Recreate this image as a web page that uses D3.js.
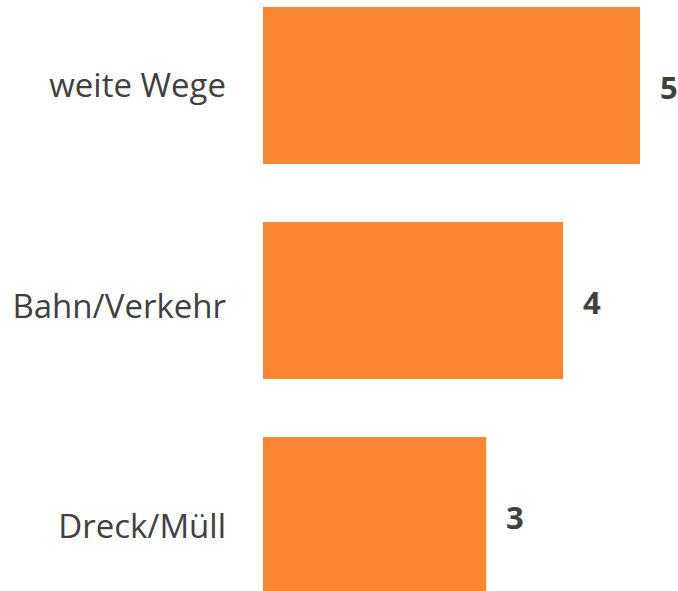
<!DOCTYPE html>
<html>
<head>
<meta charset="utf-8">
<script src="https://cdn.jsdelivr.net/npm/d3@7"></script>
<style>
  body { margin: 0; background: #fff; }
  svg { display: block; font-family: 'Open Sans', sans-serif; }
</style>
</head>
<body>
<svg width="678" height="591"></svg>
<script>
var svg = d3.select('svg');

// Data
var categories = ['weite Wege', 'Bahn/Verkehr', 'Dreck/Müll'];
var values = [5, 4, 3];

var barColor = '#fa8633';
var textColor = '#404040';

var data = categories.map(function(c, i) { return {cat: c, value: values[i]}; });

// x: axis minimum sits a little above zero in the original
var xScale = d3.scaleLinear().domain([0.1, 5]).range([263, 640]);

// y: step 215, bar height 157
var yScale = d3.scaleBand()
    .domain(categories)
    .range([-22, 623])
    .paddingInner(0.27)
    .paddingOuter(0.135);

// category labels are spaced a bit wider than the bars
var labelScale = d3.scalePoint()
    .domain(categories)
    .range([97, 538]);

function mid(d) { return yScale(d.cat) + yScale.bandwidth() / 2; }

svg.selectAll('.bar')
    .data(data)
    .enter()
    .append('rect')
    .attr('class', 'bar')
    .attr('x', xScale.range()[0])
    .attr('y', function(d) { return yScale(d.cat); })
    .attr('width', function(d) { return xScale(d.value) - xScale.range()[0]; })
    .attr('height', yScale.bandwidth())
    .attr('fill', barColor);

// category labels
svg.selectAll('.cat-label')
    .data(data)
    .enter()
    .append('text')
    .attr('class', 'cat-label')
    .attr('x', 226)
    .attr('y', function(d) { return labelScale(d.cat); })
    .attr('text-anchor', 'end')
    .attr('fill', textColor)
    .style('font-size', '33px')
    .text(function(d) { return d.cat; });

// value labels
svg.selectAll('.val-label')
    .data(data)
    .enter()
    .append('text')
    .attr('class', 'val-label')
    .attr('x', function(d) { return xScale(d.value) + 20; })
    .attr('y', function(d) { return mid(d) + 13.5; })
    .attr('fill', textColor)
    .style('font-size', '31px')
    .style('font-weight', 'bold')
    .text(function(d) { return d.value; });
</script>
</body>
</html>
